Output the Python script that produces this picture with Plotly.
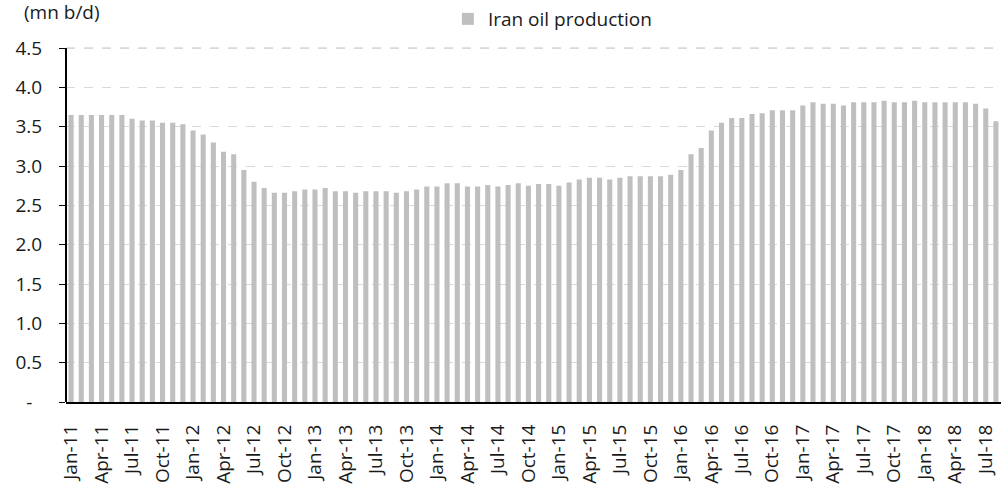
import plotly.graph_objects as go

months = ["Jan", "Feb", "Mar", "Apr", "May", "Jun", "Jul", "Aug", "Sep", "Oct", "Nov", "Dec"]
categories = [f"{m}-{y:02d}" for y in range(11, 19) for m in months][:92]

production = [
    3.65, 3.65, 3.65, 3.65, 3.65, 3.65, 3.60, 3.58, 3.58, 3.55, 3.55, 3.53,   # 2011
    3.45, 3.40, 3.30, 3.18, 3.15, 2.95, 2.80, 2.72, 2.66, 2.66, 2.68, 2.70,   # 2012
    2.70, 2.72, 2.68, 2.68, 2.66, 2.68, 2.68, 2.68, 2.66, 2.68, 2.70, 2.74,   # 2013
    2.74, 2.78, 2.78, 2.74, 2.74, 2.76, 2.74, 2.76, 2.78, 2.75, 2.77, 2.77,   # 2014
    2.75, 2.79, 2.83, 2.85, 2.85, 2.83, 2.85, 2.87, 2.87, 2.87, 2.87, 2.89,   # 2015
    2.95, 3.15, 3.23, 3.45, 3.55, 3.61, 3.61, 3.66, 3.67, 3.71, 3.71, 3.71,   # 2016
    3.77, 3.81, 3.79, 3.79, 3.77, 3.81, 3.81, 3.81, 3.83, 3.81, 3.81, 3.83,   # 2017
    3.81, 3.81, 3.81, 3.81, 3.81, 3.79, 3.73, 3.57,                           # 2018
]

tick_labels = [c for c in categories if c.split("-")[0] in ("Jan", "Apr", "Jul", "Oct")]
y_tickvals = [0, 0.5, 1.0, 1.5, 2.0, 2.5, 3.0, 3.5, 4.0, 4.5]
y_ticktext = ["-\u00a0\u00a0", "0.5", "1.0", "1.5", "2.0", "2.5", "3.0", "3.5", "4.0", "4.5"]
y_max = 4.5

FONT = "Open Sans"
BAR = "#bfbfbf"
TXT = "#1a1a1a"
GRID = "#d9d9d9"

fig = go.Figure()
fig.add_trace(go.Bar(
    x=categories, y=production, name="Iran oil production",
    marker=dict(color=BAR, line=dict(width=0)),
))

fig.update_layout(
    width=1002, height=486,
    margin=dict(l=66, r=1, t=40, b=84, autoexpand=False),
    paper_bgcolor="white", plot_bgcolor="white",
    font=dict(family=FONT, size=19, color=TXT),
    bargap=0.5,
    showlegend=True,
    legend=dict(
        orientation="h", xref="container", yref="container",
        x=0.447, y=1.0, xanchor="left", yanchor="top",
        font=dict(family=FONT, size=19, color=TXT),
        itemwidth=30, bgcolor="rgba(0,0,0,0)",
    ),
    annotations=[dict(
        text="(mn b/d)", xref="paper", yref="paper", x=-44/935, y=1.0,
        xanchor="left", yanchor="bottom", yshift=13, showarrow=False,
        font=dict(family=FONT, size=19, color=TXT),
    )],
    shapes=[dict(
        type="line", xref="paper", yref="y", x0=0, x1=1, y0=y_max, y1=y_max,
        line=dict(color=GRID, width=1.5, dash="dash"), layer="above",
    )],
)

fig.update_yaxes(
    range=[0, 4.602], tickvals=y_tickvals, ticktext=y_ticktext,
    showline=False,
    ticks="outside", ticklen=6, tickcolor="black", tickwidth=1,
    ticklabelstandoff=13,
    showgrid=True, gridcolor=GRID, griddash="dash", gridwidth=1,
    zeroline=False,
    tickfont=dict(family=FONT, size=19, color=TXT),
)
# y-axis spine drawn only up to the top tick, as in the reference
fig.add_shape(type="line", xref="paper", yref="y", x0=0, x1=0, y0=0, y1=y_max,
              line=dict(color="black", width=2), layer="above")
fig.update_xaxes(
    type="category", range=[-0.5, len(categories) - 0.5],
    tickmode="array", tickvals=tick_labels, ticktext=tick_labels,
    tickangle=-90, showline=True, linecolor="black", linewidth=2,
    ticks="", ticklabelstandoff=13, showgrid=False,
    tickfont=dict(family=FONT, size=19, color=TXT),
)

fig.write_html("out.html")
